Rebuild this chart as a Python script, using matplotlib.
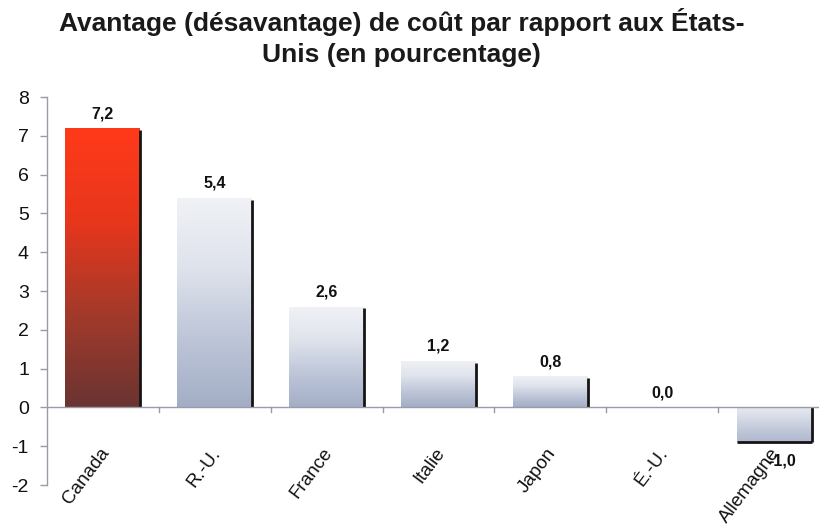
import numpy as np
import matplotlib
matplotlib.use("Agg")
import matplotlib.pyplot as plt
from matplotlib.colors import LinearSegmentedColormap
from matplotlib.patches import Rectangle
import matplotlib.transforms as mtransforms

plt.rcParams['font.family'] = ['Liberation Sans', 'DejaVu Sans']

categories = ["Canada", "R.-U.", "France", "Italie", "Japon", "É.-U.", "Allemagne"]
values = [7.2, 5.4, 2.6, 1.2, 0.8, 0.0, -0.9]
value_labels = ["7,2", "5,4", "2,6", "1,2", "0,8", "0,0", "-1,0"]
yticks = [-2, -1, 0, 1, 2, 3, 4, 5, 6, 7, 8]
title = "Avantage (désavantage) de coût par rapport aux États-\nUnis (en pourcentage)"

fig = plt.figure(figsize=(8.2, 5.26), dpi=100)
ax = fig.add_axes([47/820, 1-485/526, 1-47/820, (485-97)/526])
ax.set_xlim(-0.5, 6.41)
ax.set_ylim(-2, 8)

red_cmap = LinearSegmentedColormap.from_list("red", ["#6a3432", "#a33a2a", "#e8361c", "#ff3a1a"])
blue_cmap = LinearSegmentedColormap.from_list("blue", ["#a3aec6", "#bec6d8", "#dfe3ec", "#f0f2f6"])

width = 0.67
grad = np.linspace(0, 1, 256).reshape(-1, 1)
for i, (cat, v) in enumerate(zip(categories, values)):
    x0 = i - width / 2
    x1 = i + width / 2
    lo, hi = min(0, v), max(0, v)
    if hi - lo > 0:
        cmap = red_cmap if i == 0 else blue_cmap
        if v >= 0:
            img = grad
        else:
            img = grad * 0.6 + 0.15
        im = ax.imshow(img, cmap=cmap, vmin=0, vmax=1, origin='lower', aspect='auto',
                       extent=[x0, x1, lo, hi], zorder=2, interpolation='bilinear')
        rect = Rectangle((x0, lo), width, hi - lo, transform=ax.transData)
        im.set_clip_path(rect)
        ax.plot([x1, x1], [lo, hi - (0.05 if v > 0 else 0)], color="#151515", lw=2, zorder=3,
                solid_capstyle='butt')
        if v < 0:
            ax.plot([x0, x1], [lo, lo], color="#151515", lw=2, zorder=3, solid_capstyle='butt')
    if v >= 0:
        ax.annotate(value_labels[i], (i, v), xytext=(0, 5), textcoords='offset points',
                    ha='center', va='bottom', fontsize=11.5, fontweight='bold', color='#111111', zorder=5)
    else:
        ax.annotate(value_labels[i], (i, v), xytext=(6, -8), textcoords='offset points',
                    ha='center', va='top', fontsize=11.5, fontweight='bold', color='#111111', zorder=5)

ax.set_xticks([])
ax.set_yticks(yticks)
ax.set_yticklabels([str(t) for t in yticks], fontsize=14, color='#111111')
ax.tick_params(axis='y', direction='out', length=5, color='#9a9aa8', width=1, pad=8)

for s in ['top', 'right', 'bottom']:
    ax.spines[s].set_visible(False)
ax.spines['left'].set_color('#9a9aa8')
ax.spines['left'].set_linewidth(1)

ax.axhline(0, color='#9a9aa8', lw=1, zorder=4)
for b in np.arange(0.5, 6.0, 1.0):
    ax.plot([b, b], [0, -0.12], color='#9a9aa8', lw=1, zorder=4, clip_on=False)

for i, cat in enumerate(categories):
    trans = mtransforms.offset_copy(ax.transData, fig=fig, x=-3, y=-27, units='points')
    ax.text(i, 0, cat, transform=trans, rotation=53, ha='right', va='top',
            rotation_mode='anchor', fontsize=13.5, color='#111111', zorder=6)

fig.text(0.49, 0.985, title, ha='center', va='top', fontsize=19, fontweight='bold',
         color='#1a1a1a', linespacing=1.4)

fig.savefig("out.png", dpi=100)
